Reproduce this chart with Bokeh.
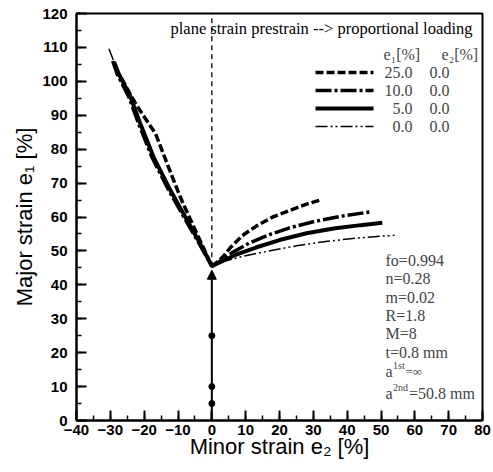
from bokeh.plotting import figure
from bokeh.models import Label, Arrow, NormalHead, SingleIntervalTicker
from bokeh.embed import file_html
from bokeh.resources import INLINE

# ---------------- data ----------------
# forming limit curves after plane-strain prestrain, minor strain e2 / major strain e1 [%]
e2_pre25 = [-26.8, -22.3, -16.6, -13.2, -9.3, -5.3, -2.5, 0.0, 2.0, 3.5, 5.5, 9.0, 13.4, 18.0, 23.2, 28.0, 32.0]
e1_pre25 = [101.0, 93.0, 84.5, 75.7, 65.8, 57.0, 51.0, 45.5, 47.0, 48.5, 51.0, 54.5, 57.5, 60.0, 62.0, 63.8, 65.0]

e2_pre10 = [-29.3, -28.0, -24.5, -21.6, -17.7, -12.7, -7.7, -3.7, 0.0, 3.0, 6.0, 11.0, 17.0, 23.0, 30.0, 38.0, 46.7]
e1_pre10 = [106.0, 102.2, 95.3, 87.4, 77.6, 67.8, 59.0, 52.1, 45.5, 47.3, 49.5, 52.3, 54.8, 56.8, 58.6, 60.2, 61.5]

e2_pre5 = [-28.9, -27.5, -24.0, -21.1, -17.2, -12.2, -7.3, -3.4, 0.0, 3.0, 7.0, 13.0, 20.0, 28.0, 36.0, 44.0, 50.4]
e1_pre5 = [105.7, 102.2, 95.3, 87.4, 77.6, 67.8, 59.0, 52.1, 45.5, 47.0, 48.8, 51.0, 53.2, 55.2, 56.6, 57.6, 58.3]

e2_pre0 = [-30.4, -28.9, -27.5, -24.0, -21.1, -17.2, -12.2, -7.3, -3.4, 0.0, 4.0, 10.0, 18.0, 25.0, 33.0, 41.0, 48.0, 54.0]
e1_pre0 = [109.6, 105.7, 102.2, 95.3, 87.4, 77.6, 67.8, 59.0, 52.1, 45.5, 47.0, 48.6, 50.2, 51.5, 52.7, 53.6, 54.2, 54.6]

# plane strain prestrain path
prestrain_e1 = [5.0, 10.0, 25.0]
path_top = 44.3
plane_strain_top = 45.5

legend_e1 = ["25.0", "10.0", "5.0", "0.0"]
legend_e2 = ["0.0", "0.0", "0.0", "0.0"]

params = ["fo=0.994", "n=0.28", "m=0.02", "R=1.8", "M=8", "t=0.8 mm"]

# ---------------- layout helpers (pixel -> data) ----------------
def X(px):
    return (px - 76) / 3.383 - 40

def Y(py):
    return (420 - py) / 3.392

SERIF = "Liberation Serif"
SANS = "Liberation Sans"

p = figure(width=492, height=466, x_range=(-40, 80), y_range=(0, 120),
           output_backend="svg", toolbar_location=None,
           min_border_left=76, min_border_right=10, min_border_top=13, min_border_bottom=46)
p.grid.visible = False
p.outline_line_color = "black"
p.outline_line_width = 2
p.background_fill_color = "white"
p.border_fill_color = "white"

for ax, lab in ((p.xaxis, "Minor strain e\u2082 [%]"), (p.yaxis, "Major strain e\u2081 [%]")):
    ax.ticker = SingleIntervalTicker(interval=10, num_minor_ticks=2)
    ax.axis_label = lab
    ax.axis_label_text_font = SANS
    ax.axis_label_text_font_size = "22px"
    ax.axis_label_text_font_style = "normal"
    ax.axis_label_text_color = "black"
    ax.major_label_text_font = SANS
    ax.major_label_text_font_size = "15px"
    ax.major_label_text_font_style = "bold"
    ax.major_label_text_color = "black"
    ax.axis_line_width = 2
    ax.axis_line_color = "black"
    ax.major_tick_in = 10
    ax.major_tick_out = 0
    ax.minor_tick_in = 5
    ax.minor_tick_out = 0
    ax.major_tick_line_width = 2
    ax.minor_tick_line_width = 1.5
    ax.major_tick_line_color = "black"
    ax.minor_tick_line_color = "black"

p.xaxis.major_label_standoff = 4
p.xaxis.axis_label_standoff = -4
p.yaxis.major_label_standoff = 9
p.yaxis.axis_label_standoff = 2

styles = {
    "25.0": dict(line_width=3.5, line_dash="8 3"),
    "10.0": dict(line_width=3.5, line_dash="16 3 3 3"),
    "5.0": dict(line_width=4, line_dash="solid"),
    "0.0": dict(line_width=1.5, line_dash="12 3 2 3 2 3"),
}

series = [("0.0", e2_pre0, e1_pre0), ("5.0", e2_pre5, e1_pre5),
          ("10.0", e2_pre10, e1_pre10), ("25.0", e2_pre25, e1_pre25)]
for key, xs, ys in series:
    p.line(xs, ys, line_color="black", **styles[key])

# plane strain reference line (dashed) and prestrain path
p.line([0, 0], [plane_strain_top, 120], line_color="black", line_width=1.3, line_dash="5 4")
p.add_layout(Arrow(end=NormalHead(size=9, fill_color="black", line_color="black"),
                   x_start=0, y_start=0, x_end=0, y_end=path_top,
                   line_color="black", line_width=2))
p.scatter([0] * len(prestrain_e1), prestrain_e1, size=6, color="black")

# title text
p.add_layout(Label(x=X(170), y=Y(28), text="plane strain prestrain --> proportional loading",
                   text_font=SERIF, text_font_size="16.5px", text_baseline="middle", text_color="black"))

# legend
p.add_layout(Label(x=X(383), y=Y(54), text="e\u2081[%]", text_font=SERIF, text_font_size="16px",
                   text_baseline="middle"))
p.add_layout(Label(x=X(441), y=Y(54), text="e\u2082[%]", text_font=SERIF, text_font_size="16px",
                   text_baseline="middle"))
row_py = [72, 90, 108, 126]
for lab1, lab2, py in zip(legend_e1, legend_e2, row_py):
    p.line([X(315), X(373)], [Y(py), Y(py)], line_color="black", **styles[lab1])
    p.add_layout(Label(x=X(412), y=Y(py), text=lab1, text_font=SERIF, text_font_size="16px",
                       text_baseline="middle", text_align="right"))
    p.add_layout(Label(x=X(449), y=Y(py), text=lab2, text_font=SERIF, text_font_size="16px",
                       text_baseline="middle", text_align="right"))

# material parameters
param_py = [260, 278.3, 296.7, 315, 333.3, 351.7]
for t, py in zip(params, param_py):
    p.add_layout(Label(x=X(385), y=Y(py), text=t, text_font=SERIF, text_font_size="16px",
                       text_baseline="middle"))

for sup, rest, py, dx in (("1st", "=\u221e", 371, 12), ("2nd", "=50.8 mm", 393, 15.5)):
    p.add_layout(Label(x=X(385), y=Y(py), text="a", text_font=SERIF, text_font_size="16px",
                       text_baseline="middle"))
    p.add_layout(Label(x=X(392.5), y=Y(py - 6), text=sup, text_font=SERIF, text_font_size="10px",
                       text_baseline="middle"))
    p.add_layout(Label(x=X(393 + dx), y=Y(py), text=rest, text_font=SERIF,
                       text_font_size="16px" if sup == "2nd" else "13px", text_baseline="middle"))

open("out.html", "w").write(file_html(p, INLINE))
